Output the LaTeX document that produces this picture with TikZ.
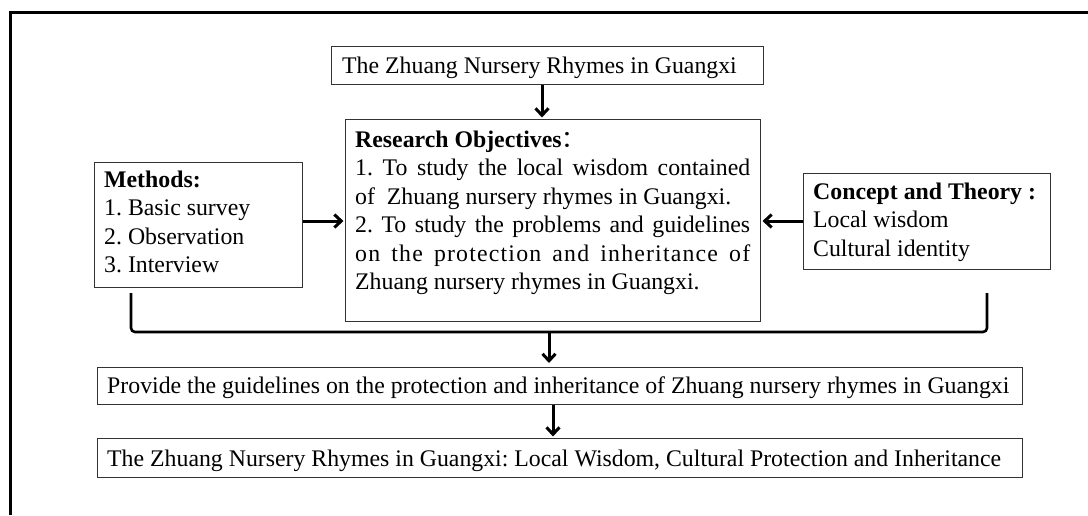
\documentclass[tikz,border=0pt]{standalone}
\usepackage{fontspec}
\setmainfont{Liberation Serif}
\newfontfamily\cjk{Noto Sans CJK SC}
\usetikzlibrary{arrows.meta}
\frenchspacing
\begin{document}
\begin{tikzpicture}[x=1pt,y=-1pt,
  box/.style={draw=black!80,line width=1pt,inner sep=0pt,anchor=north west},
  txt/.style={anchor=base west,inner sep=0pt,font=\fontsize{23.8}{28.5}\selectfont},
  arr/.style={line width=3pt,shorten >=1.5pt,-{Straight Barb[length=7pt,width=13pt,line width=3pt]}},
  bracket/.style={line width=2.6pt,rounded corners=4pt}
]
\useasboundingbox (0,0) rectangle (1088,515);
\draw[line width=3pt] (10.5,515) -- (10.5,12.5) -- (1088,12.5);

% boxes
\node[box,minimum width=432pt,minimum height=38pt] (top) at (331,46) {};
\node[box,minimum width=415pt,minimum height=202pt] (res) at (345,119) {};
\node[box,minimum width=208pt,minimum height=125pt] (meth) at (94,162) {};
\node[box,minimum width=247pt,minimum height=96pt] (con) at (803,173) {};
\node[box,minimum width=925pt,minimum height=37pt] (prov) at (97,367) {};
\node[box,minimum width=925pt,minimum height=39pt] (fin) at (97,438) {};

% texts
\node[txt] (toptx) at (342,73) {The Zhuang Nursery Rhymes in Guangxi};
\node[txt] (restx) at (355,147) {\parbox[t]{395pt}{%
\textbf{Research Objectives}{\cjk ：}\\
\makebox[395pt][s]{1. To study the local wisdom contained}\\
of\ \ Zhuang nursery rhymes in Guangxi.\\
\makebox[395pt][s]{2. To study the problems and guidelines}\\
\makebox[395pt][s]{\addfontfeature{LetterSpace=5}on the protection and inheritance of}\\
Zhuang nursery rhymes in Guangxi.}};
\node[txt] (methtx) at (104,187) {\parbox[t]{195pt}{%
\textbf{Methods:}\\
1. Basic survey\\
2. Observation\\
3. Interview}};
\node[txt] (contx) at (813,199) {\parbox[t]{235pt}{%
\textbf{Concept and Theory :}\\
Local wisdom\\
Cultural identity}};
\node[txt] (provtx) at (107,393) {Provide the guidelines on the protection and inheritance of Zhuang nursery rhymes in Guangxi};
\node[txt] (fintx) at (107,466) {The Zhuang Nursery Rhymes in Guangxi: Local Wisdom, Cultural Protection and Inheritance};

% connectors
\coordinate (a1) at (542,0);
\coordinate (a2) at (0,221);
\coordinate (a3) at (553,0);
\coordinate (bl) at (131,293);
\coordinate (br) at (987,293);
\coordinate (bm) at (549,332);
\draw[arr] (top.south -| a1) -- (res.north -| a1);
\draw[arr] (meth.east |- a2) -- (res.west |- a2);
\draw[arr] (con.west |- a2) -- (res.east |- a2);
\draw[bracket] (bl) |- (bm) -| (br);
\draw[arr,shorten >=4pt] (bm) -- (prov.north -| bm);
\draw[arr] (prov.south -| a3) -- (fin.north -| a3);
\end{tikzpicture}
\end{document}
